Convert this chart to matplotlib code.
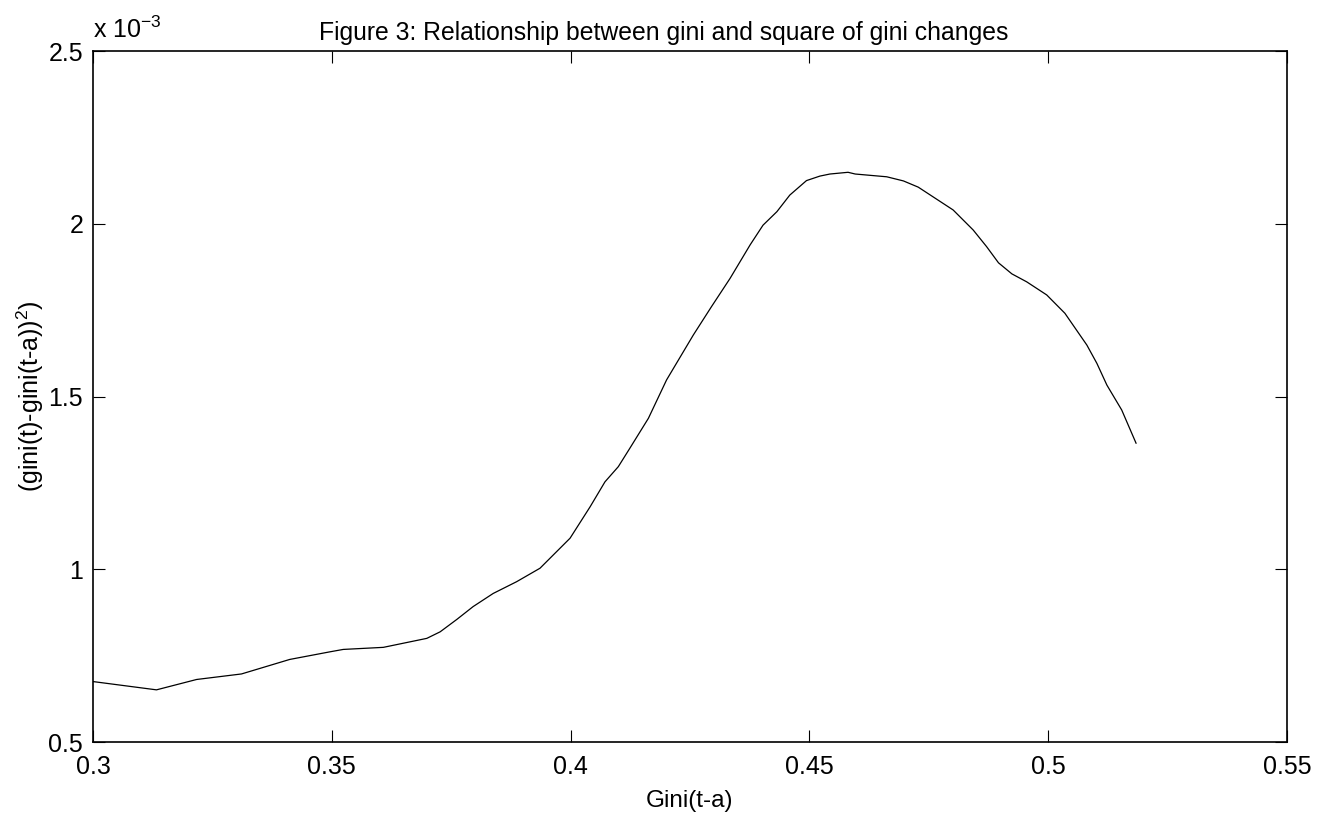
import numpy as np
import matplotlib
matplotlib.use("Agg")
import matplotlib.pyplot as plt
from matplotlib.ticker import FuncFormatter

plt.rcParams['font.family'] = ['Liberation Sans', 'DejaVu Sans']
plt.rcParams['mathtext.fontset'] = 'custom'
plt.rcParams['mathtext.rm'] = 'Liberation Sans'
plt.rcParams['mathtext.it'] = 'Liberation Sans'

# === data ===
gini_lag = [0.3000, 0.3133, 0.3217, 0.3311, 0.3412, 0.3496, 0.3524, 0.3608, 0.3699,
            0.3727, 0.3762, 0.3796, 0.3838, 0.3887, 0.3936, 0.3999, 0.4041, 0.4072,
            0.4100, 0.4124, 0.4163, 0.4201, 0.4257, 0.4295, 0.4334, 0.4376, 0.4403,
            0.4432, 0.4459, 0.4494, 0.4522, 0.4543, 0.4581, 0.4596, 0.4662, 0.4697,
            0.4728, 0.4801, 0.4843, 0.4871, 0.4896, 0.4924, 0.4955, 0.4997, 0.5035,
            0.5081, 0.5102, 0.5123, 0.5154, 0.5184]
sq_change_e3 = [0.675, 0.651, 0.681, 0.697, 0.739, 0.761, 0.768, 0.774, 0.800,
                0.819, 0.855, 0.892, 0.930, 0.964, 1.003, 1.090, 1.181, 1.253,
                1.297, 1.350, 1.437, 1.548, 1.678, 1.760, 1.842, 1.939, 1.996,
                2.035, 2.083, 2.125, 2.138, 2.144, 2.149, 2.144, 2.136, 2.124,
                2.106, 2.040, 1.982, 1.934, 1.887, 1.855, 1.832, 1.794, 1.741,
                1.649, 1.596, 1.533, 1.461, 1.365]
x_ticks = [0.3, 0.35, 0.4, 0.45, 0.5, 0.55]
y_ticks_e3 = [0.5, 1, 1.5, 2, 2.5]

y = np.array(sq_change_e3) * 1e-3

fig = plt.figure(figsize=(13.28, 8.23), dpi=100)
ax = fig.add_axes([0.0700, 0.0984, 0.8991, 0.8396])
ax.plot(gini_lag, y, color='black', linewidth=0.9)

ax.set_xlim(0.3, 0.55)
ax.set_ylim(0.5e-3, 2.5e-3)
ax.set_xticks(x_ticks)
ax.set_yticks(np.array(y_ticks_e3) * 1e-3)
ax.xaxis.set_major_formatter(FuncFormatter(lambda v, p: f"{v:g}"))
ax.yaxis.set_major_formatter(FuncFormatter(lambda v, p: f"{v*1e3:g}"))

ax.tick_params(direction='in', length=8.5, width=0.8, top=True, right=True,
               labelsize=18)
ax.tick_params(axis='x', pad=9)
ax.tick_params(axis='y', pad=7)
for s in ax.spines.values():
    s.set_linewidth(1.2)

ax.set_xlabel("Gini(t-a)", fontsize=17.5, labelpad=8)
ax.set_ylabel(r"(gini(t)-gini(t-a))$^2$)", fontsize=18, labelpad=2)
fig.text(0.5, 0.952, "Figure 3: Relationship between gini and square of gini changes",
         fontsize=17.8, ha='center', va='baseline')
ax.text(0.0, 1.011, r"x 10$^{-3}$", transform=ax.transAxes, fontsize=18,
        ha='left', va='bottom')

fig.savefig("out.png", dpi=100)
